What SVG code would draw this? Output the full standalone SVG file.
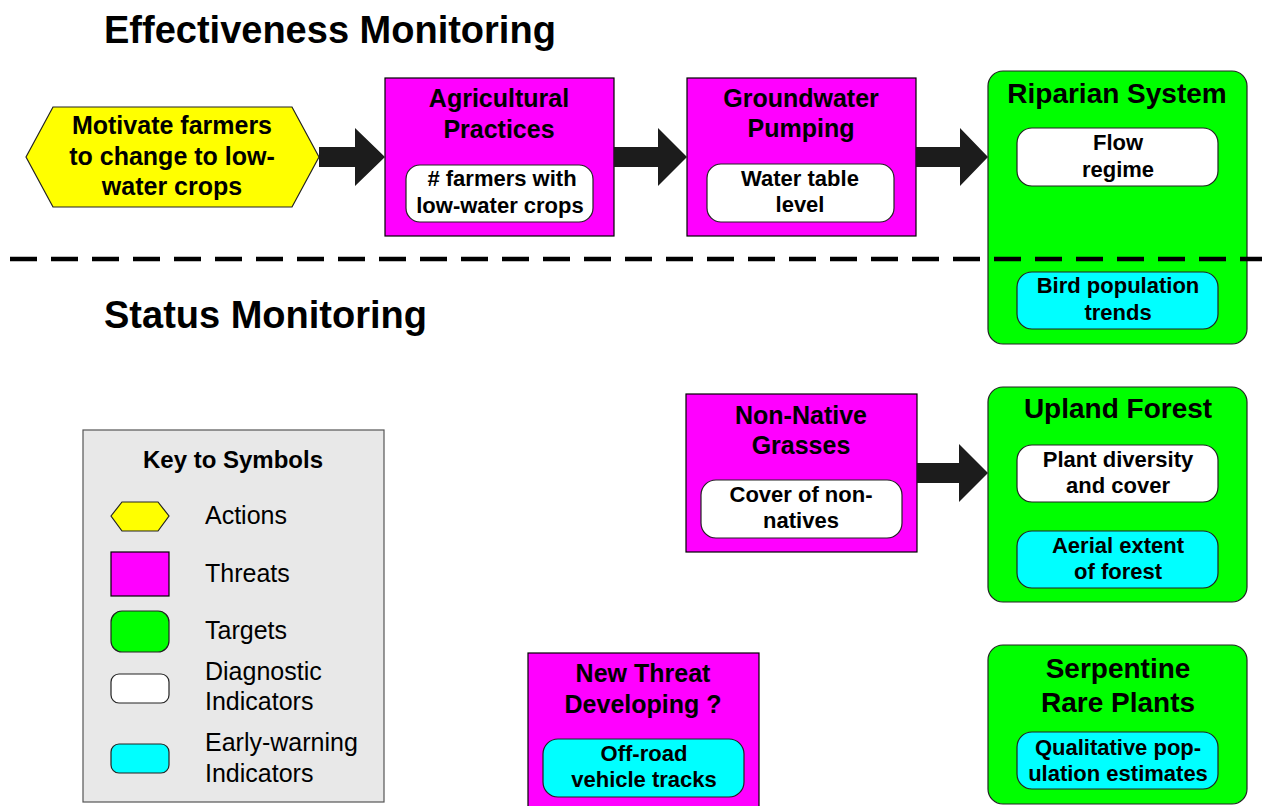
<svg xmlns="http://www.w3.org/2000/svg" width="1262" height="806" viewBox="0 0 1262 806">
<style>
text{font-family:"Liberation Sans",Arial,sans-serif;fill:#000;text-anchor:middle}
.h{font-size:38px;font-weight:bold;text-anchor:start}
.t{font-size:25px;font-weight:bold}
.tg{font-size:28px;font-weight:bold}
.i{font-size:22px;font-weight:bold}
.k{font-size:25px;text-anchor:start}
.kt{font-size:24px;font-weight:bold}
.threat{fill:#ff00ff;stroke:#000;stroke-width:1.2}
.target{fill:#00ff00;stroke:#222;stroke-width:1.2}
.diag{fill:#fff;stroke:#222;stroke-width:1.2}
.early{fill:#00ffff;stroke:#222;stroke-width:1.2}
.action{fill:#ffff00;stroke:#222;stroke-width:1.2}
.arrow{fill:#1c1c1c}
</style>
<rect width="1262" height="806" fill="#fff"/>
<text class="h" x="104" y="43">Effectiveness Monitoring</text>
<text class="h" x="104" y="328">Status Monitoring</text>

<g id="action-motivate">
<polygon class="action" points="26,157 53,107 292,107 319,157 292,207 53,207"/>
<text class="t" x="172" y="134">Motivate farmers</text>
<text class="t" x="172" y="165">to change to low-</text>
<text class="t" x="172" y="195">water crops</text>
</g>

<g id="threat-agri">
<rect class="threat" x="385" y="78" width="229" height="158"/>
<text class="t" x="499" y="107">Agricultural</text>
<text class="t" x="499" y="138">Practices</text>
<rect class="diag" x="406" y="165" width="187" height="57" rx="14"/>
<text class="i" x="502" y="186"># farmers with</text>
<text class="i" x="500" y="213">low-water crops</text>
</g>

<g id="threat-groundwater">
<rect class="threat" x="687" y="78" width="229" height="158"/>
<text class="t" x="801" y="107">Groundwater</text>
<text class="t" x="801" y="137">Pumping</text>
<rect class="diag" x="707" y="164" width="187" height="58" rx="14"/>
<text class="i" x="800" y="186">Water table</text>
<text class="i" x="800" y="212">level</text>
</g>

<g id="target-riparian">
<rect class="target" x="988" y="71" width="259" height="273" rx="15"/>
<text class="tg" x="1117" y="103">Riparian System</text>
<rect class="diag" x="1017" y="128" width="201" height="58" rx="15"/>
<text class="i" x="1118" y="150">Flow</text>
<text class="i" x="1118" y="177">regime</text>
<rect class="early" x="1017" y="272" width="201" height="57" rx="15"/>
<text class="i" x="1118" y="293">Bird population</text>
<text class="i" x="1118" y="320">trends</text>
</g>

<g id="threat-nonnative">
<rect class="threat" x="686" y="394" width="231" height="158"/>
<text class="t" x="801" y="424">Non-Native</text>
<text class="t" x="801" y="454">Grasses</text>
<rect class="diag" x="701" y="480" width="201" height="58" rx="15"/>
<text class="i" x="801" y="502">Cover of non-</text>
<text class="i" x="801" y="528">natives</text>
</g>

<g id="target-upland">
<rect class="target" x="988" y="387" width="259" height="215" rx="15"/>
<text class="tg" x="1118" y="418">Upland Forest</text>
<rect class="diag" x="1017" y="445" width="201" height="57" rx="15"/>
<text class="i" x="1118" y="467">Plant diversity</text>
<text class="i" x="1118" y="493">and cover</text>
<rect class="early" x="1017" y="531" width="201" height="57" rx="15"/>
<text class="i" x="1118" y="553">Aerial extent</text>
<text class="i" x="1118" y="579">of forest</text>
</g>

<g id="threat-new">
<rect class="threat" x="528" y="653" width="231" height="160"/>
<text class="t" x="643" y="682">New Threat</text>
<text class="t" x="643" y="713">Developing ?</text>
<rect class="early" x="543" y="739" width="201" height="58" rx="15"/>
<text class="i" x="644" y="761">Off-road</text>
<text class="i" x="644" y="787">vehicle tracks</text>
</g>

<g id="target-serpentine">
<rect class="target" x="988" y="645" width="259" height="159" rx="15"/>
<text class="tg" x="1118" y="678">Serpentine</text>
<text class="tg" x="1118" y="712">Rare Plants</text>
<rect class="early" x="1017" y="732" width="201" height="57" rx="15"/>
<text class="i" x="1118" y="755">Qualitative pop-</text>
<text class="i" x="1118" y="781">ulation estimates</text>
</g>

<g id="connectors">
<polygon class="arrow" points="319,147 355,147 355,128 385,157 355,186 355,167 319,167"/>
<polygon class="arrow" points="614,147 658,147 658,128 687,157 658,186 658,167 614,167"/>
<polygon class="arrow" points="916,147 960,147 960,128 988,157 960,186 960,167 916,167"/>
<polygon class="arrow" points="917,463 959,463 959,444 988,473 959,502 959,483 917,483"/>
</g>

<line x1="10" y1="259" x2="1262" y2="259" stroke="#000" stroke-width="4.5" stroke-dasharray="27 14"/>

<g id="key">
<rect x="83" y="430" width="301" height="372" fill="#e8e8e8" stroke="#555" stroke-width="1.2"/>
<text class="kt" x="233" y="468">Key to Symbols</text>
<polygon class="action" points="111,516 122,502 158,502 169,516 158,531 122,531"/>
<text class="k" x="205" y="524">Actions</text>
<rect class="threat" x="111" y="552" width="58" height="44"/>
<text class="k" x="205" y="582">Threats</text>
<rect class="target" x="111" y="611" width="58" height="41" rx="11"/>
<text class="k" x="205" y="639">Targets</text>
<rect class="diag" x="111" y="674" width="58" height="29" rx="8"/>
<text class="k" x="205" y="680">Diagnostic</text>
<text class="k" x="205" y="710">Indicators</text>
<rect class="early" x="111" y="744" width="58" height="29" rx="8"/>
<text class="k" x="205" y="751">Early-warning</text>
<text class="k" x="205" y="782">Indicators</text>
</g>
</svg>
